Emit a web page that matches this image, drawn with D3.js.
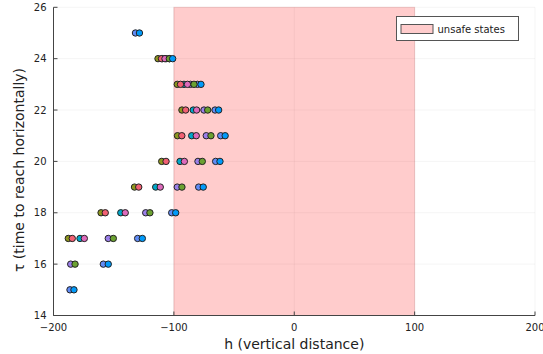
<!DOCTYPE html>
<html><head><meta charset="utf-8">
<script src="https://cdn.jsdelivr.net/npm/d3@7"></script>
<style>body{margin:0;background:#fff}svg{display:block;font-family:"DejaVu Sans",sans-serif}</style>
</head><body><svg id="c" width="543" height="354"></svg>
<script>
const tau = [15,16,17,18,19,20,21,22,23,24,25];
const xTicks = [-200,-100,0,100,200];
const yTicks = [14,16,18,20,22,24,26];
const unsafe = [-100,100];
const seriesNames = ["s10","s11","s12","s13","s14","s15","s16","s17"];
const seriesColors = ["#8E971E","#00A8CA","#9B7FE9","#618CF7","#F16073","#DD6ABB","#6BA131","#009AFA"];
// h values per tau (null = no point)
const hOlive  = [null,null,-187.7,-160.5,-132.7,-110.1,-97.0,-93.3,-97.2,-113.2,null];
const hTeal   = [null,null,-178.0,-144.1,-115.1,-94.9,-85.2,-83.9,-91.6,-109.5,null];
const hPurple = [null,-185.7,-154.5,-123.4,-97.2,-80.0,-73.1,-75.0,-86.2,-106.5,null];
const hSlate  = [-186.3,-158.6,-130.1,-101.8,-79.4,-65.3,-61.1,-65.8,-80.4,-103.6,-131.9];
const hRed    = [null,null,-184.4,-157.0,-129.2,-106.5,-93.4,-90.2,-94.5,-110.3,null];
const hPink   = [null,null,-174.4,-140.4,-111.3,-91.3,-81.4,-81.1,-88.7,-107.4,null];
const hGreen  = [null,-182.1,-150.3,-119.9,-93.3,-76.4,-69.2,-71.9,-83.3,-103.8,null];
const hBlue   = [-183.0,-154.5,-126.2,-98.5,-75.6,-61.7,-57.4,-62.8,-77.5,-101.0,-128.6];
const series = [hOlive,hTeal,hPurple,hSlate,hRed,hPink,hGreen,hBlue];

const svg = d3.select("#c");
const L=53.5, R=535, T=7.3, B=315.5;
const x = d3.scaleLinear().domain([-200,200]).range([L,R]);
const y = d3.scaleLinear().domain([14,26]).range([B,T]);

// grid
const g = svg.append("g");
g.selectAll(".gx").data(xTicks).join("line")
  .attr("x1",d=>x(d)).attr("x2",d=>x(d)).attr("y1",T).attr("y2",B)
  .attr("stroke","#000").attr("stroke-opacity",0.08).attr("stroke-width",0.6);
g.selectAll(".gy").data(yTicks).join("line")
  .attr("y1",d=>y(d)).attr("y2",d=>y(d)).attr("x1",L).attr("x2",R)
  .attr("stroke","#000").attr("stroke-opacity",0.08).attr("stroke-width",0.6);

// unsafe region
svg.append("rect")
  .attr("x",x(unsafe[0])).attr("width",x(unsafe[1])-x(unsafe[0]))
  .attr("y",y(26)).attr("height",y(14)-y(26))
  .attr("fill","#ff0000").attr("fill-opacity",0.2)
  .attr("stroke","#b04040").attr("stroke-opacity",0.2).attr("stroke-width",1);

// axes
const ax = svg.append("g").attr("stroke","#444").attr("stroke-width",1);
ax.append("line").attr("x1",L).attr("x2",R).attr("y1",B).attr("y2",B);
ax.append("line").attr("x1",L).attr("x2",L).attr("y1",T).attr("y2",B);
ax.selectAll(".tx").data(xTicks).join("line")
  .attr("x1",d=>x(d)).attr("x2",d=>x(d)).attr("y1",B).attr("y2",B-4);
ax.selectAll(".ty").data(yTicks).join("line")
  .attr("y1",d=>y(d)).attr("y2",d=>y(d)).attr("x1",L).attr("x2",L+4);

const fmt = d => d<0 ? "\u2212"+Math.abs(d) : String(d);
svg.selectAll(".lx").data(xTicks).join("text")
  .attr("x",d=>x(d)).attr("y",B+15).attr("text-anchor","middle")
  .attr("font-size",10).attr("fill","#222").text(fmt);
svg.selectAll(".ly").data(yTicks).join("text")
  .attr("x",L-7).attr("y",d=>y(d)+3.5).attr("text-anchor","end")
  .attr("font-size",10).attr("fill","#222").text(fmt);

svg.append("text").attr("x",(L+R)/2).attr("y",348.5).attr("text-anchor","middle")
  .attr("font-size",14).attr("fill","#222").text("h (vertical distance)");
svg.append("text").attr("transform","translate(24,170) rotate(-90)").attr("text-anchor","middle")
  .attr("font-size",14).attr("fill","#222").text("\u03C4 (time to reach horizontally)");

// points
series.forEach((vals,i)=>{
  const pts = tau.map((t,j)=>({t,h:vals[j]})).filter(p=>p.h!==null);
  svg.append("g").selectAll("circle").data(pts).join("circle")
    .attr("cx",p=>x(p.h)).attr("cy",p=>y(p.t)).attr("r",3.2)
    .attr("fill",seriesColors[i]).attr("stroke","#222").attr("stroke-width",1);
});

// legend
const lg = svg.append("g");
lg.append("rect").attr("x",396.5).attr("y",16.5).attr("width",122).attr("height",24)
  .attr("fill","#fff").attr("stroke","#555").attr("stroke-width",1);
lg.append("rect").attr("x",401).attr("y",24.5).attr("width",32).attr("height",9)
  .attr("fill","#ffcccc").attr("stroke","#555").attr("stroke-width",1);
lg.append("text").attr("x",437.5).attr("y",32.5).attr("font-size",10).attr("fill","#222").text("unsafe states");
</script></body></html>
